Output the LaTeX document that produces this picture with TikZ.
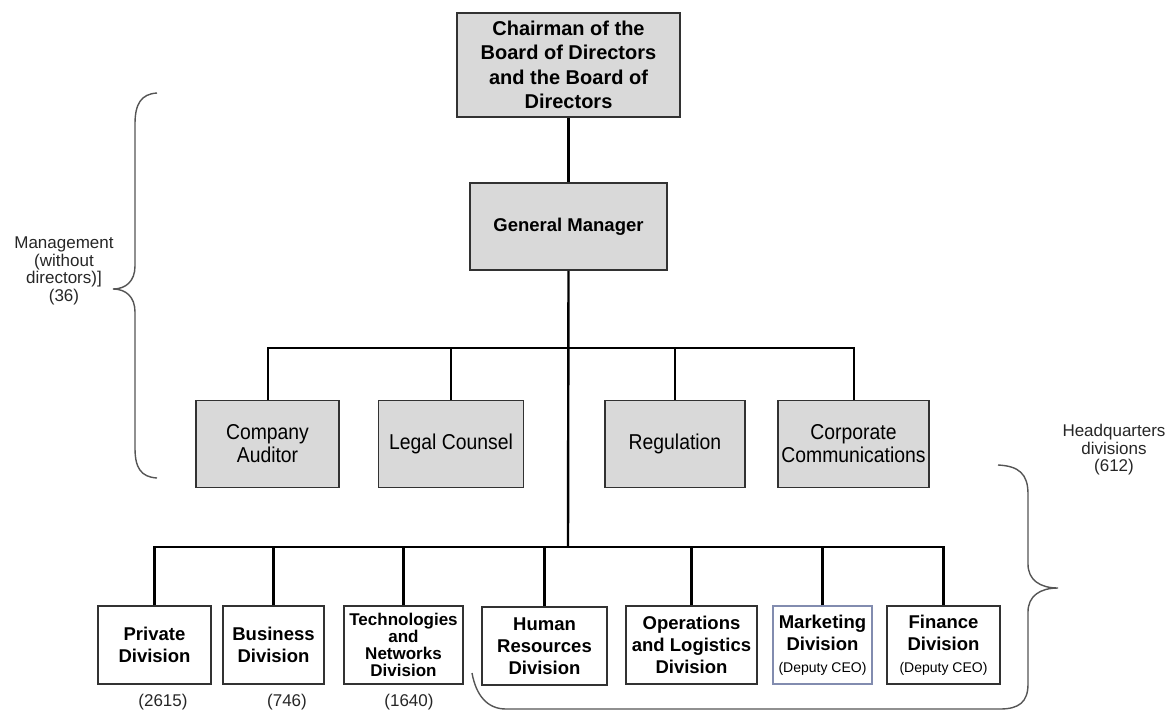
\documentclass[tikz,border=0pt]{standalone}
\usepackage{fontspec}
\setmainfont{Liberation Sans}
\newfontfamily\condfont[FakeStretch=0.9]{Liberation Sans}
\definecolor{boxgray}{RGB}{217,217,217}
\definecolor{edgegray}{RGB}{50,50,50}
\definecolor{bracegray}{RGB}{85,85,85}
\definecolor{mktblue}{RGB}{130,140,175}
\tikzset{
  topbox/.style={draw=edgegray, line width=1.8pt, fill=boxgray, align=center, inner sep=0pt,
    font=\bfseries\fontsize{20}{24.5}\selectfont},
  gmbox/.style={draw=edgegray, line width=1.8pt, fill=boxgray, align=center, inner sep=0pt,
    font=\bfseries\fontsize{18.5}{22}\selectfont},
  midbox/.style={draw=edgegray, line width=1.8pt, fill=boxgray, align=center, inner sep=0pt,
    minimum height=87pt, font=\condfont\fontsize{21.5}{23}\selectfont},
  lowbox/.style={draw=edgegray, line width=1.5pt, fill=white, align=center, inner sep=0pt,
    minimum height=78pt, font=\bfseries\fontsize{18.5}{22}\selectfont},
  conn/.style={line width=2.4pt, black},
  thinconn/.style={line width=2pt, black},
  bracepath/.style={draw=bracegray, line width=1.4pt},
  note/.style={align=center, inner sep=0pt, text=black!85, font=\fontsize{17}{17.5}\selectfont},
}
\begin{document}
\begin{tikzpicture}[x=1pt, y=-1pt]
\useasboundingbox (0,0) rectangle (1170,713);
% top
\node[topbox, minimum width=223pt, minimum height=104pt] (chair) at (568.5,65)
  {Chairman of the\\Board of Directors\\and the Board of\\Directors};
\node[gmbox, minimum width=197pt, minimum height=87pt] (gm) at (568.5,226.5) {General Manager};
% level 2
\node[midbox, minimum width=143pt] (ca) at (267.5,444) {Company\\Auditor};
\node[midbox, minimum width=145pt] (lc) at (451,444) {Legal Counsel};
\node[midbox, minimum width=140pt] (reg) at (675,444) {Regulation};
\node[midbox, minimum width=151pt] (cc) at (853.5,444) {Corporate\\Communications};
% level 3
\node[lowbox, minimum width=113pt] (priv) at (154.5,645) {Private\\Division};
\node[lowbox, minimum width=101pt] (busi) at (273.5,645) {Business\\Division};
\node[lowbox, minimum width=119pt, font=\bfseries\fontsize{17}{17}\selectfont] (tech) at (403.5,645) {Technologies\\and\\Networks\\Division};
\node[lowbox, minimum width=125pt] (hr) at (544.5,646) {Human\\Resources\\Division};
\node[lowbox, minimum width=131pt] (ops) at (691.5,645) {Operations\\and Logistics\\Division};
\node[lowbox, minimum width=99pt, draw=mktblue] (mkt) at (822.5,645) {Marketing\\Division\\{\mdseries\fontsize{14}{15}\selectfont(Deputy CEO)}};
\node[lowbox, minimum width=113pt] (fin) at (943.5,645) {Finance\\Division\\{\mdseries\fontsize{14}{15}\selectfont(Deputy CEO)}};
% numbers
\node[note] (n1) at (163,702) {(2615)};
\node[note] (n2) at (287,702) {(746)};
\node[note] (n3) at (409,702) {(1640)};
% connectors
\coordinate (j2) at (568,348);
\coordinate (j3) at (568,547);
\draw[conn] (chair.south) -- (gm.north);
\draw[conn] (gm.south) -- (j3);
\draw[thinconn] (ca.north) |- (j2) -| (cc.north);
\draw[thinconn] (lc.north) -- (lc.north |- j2);
\draw[thinconn] (reg.north) -- (reg.north |- j2);
\draw[conn] (priv.north) |- (j3) -| (fin.north);
\draw[conn] (busi.north) -- (busi.north |- j3);
\draw[conn] (tech.north) -- (tech.north |- j3);
\draw[conn] (hr.north) -- (hr.north |- j3);
\draw[conn] (ops.north) -- (ops.north |- j3);
\draw[conn] (mkt.north) -- (mkt.north |- j3);
% left brace
\draw[bracepath] (157,93) .. controls (141,94) and (135,104) .. (135,124) -- (135,266)
  .. controls (135,281) and (126,289) .. (113,289)
  .. controls (126,289) and (135,297) .. (135,312) -- (135,448)
  .. controls (135,468) and (141,477) .. (157,478);
\node[note] (mgmt) at (64,271) {Management\\(without\\directors)]\\(36)};
% right brace
\draw[bracepath] (998,465) .. controls (1019,466) and (1028,474) .. (1028,494) -- (1028,564)
  .. controls (1028,580) and (1040,588) .. (1058,588)
  .. controls (1040,588) and (1028,596) .. (1028,612) -- (1028,684)
  .. controls (1028,702) and (1019,709) .. (1000,709) -- (506,709)
  .. controls (487,709) and (476,695) .. (472,673);
\node[note] (hq) at (1114,450) {Headquarters\\divisions\\(612)};
\end{tikzpicture}
\end{document}
